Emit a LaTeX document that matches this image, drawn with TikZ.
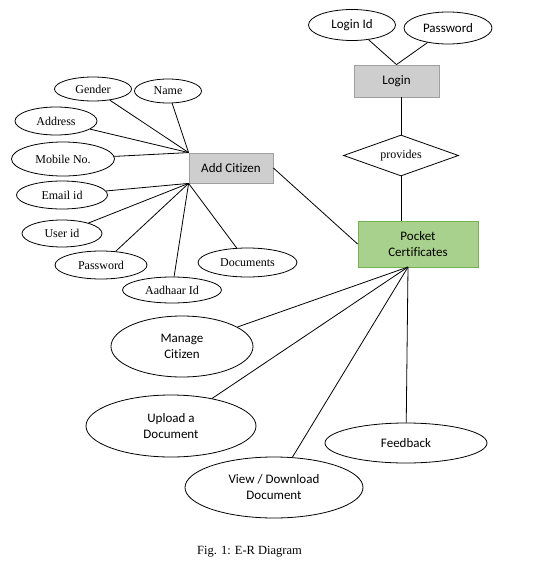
\documentclass[tikz,border=0pt]{standalone}
\usepackage{fontspec}
\setmainfont{Liberation Serif}
\newfontfamily\calib[Ligatures=NoCommon]{Carlito}
\usetikzlibrary{positioning,shapes.geometric}
\definecolor{boxgray}{RGB}{206,206,206}
\definecolor{edgegray}{RGB}{160,160,160}
\definecolor{boxgreen}{RGB}{169,209,142}
\definecolor{edgegreen}{RGB}{120,178,80}
\tikzset{
  attr/.style={draw,ellipse,inner sep=0pt,font=\fontsize{12}{13}\selectfont},
  act/.style={draw,ellipse,inner sep=0pt,align=center,font=\calib\fontsize{13}{16}\selectfont},
  entity/.style={draw=edgegray,fill=boxgray,inner sep=0pt,font=\calib\fontsize{13}{16}\selectfont},
  rel/.style={draw,diamond,inner sep=0pt,aspect=2.8,font=\fontsize{12}{13}\selectfont},
  link/.style={line width=.8pt}
}

\begin{document}
\begin{tikzpicture}[x=1pt,y=-1pt,line width=.8pt]
\useasboundingbox (0,0) rectangle (534,567);
% entities
\node[entity,minimum width=84pt,minimum height=30pt] (addcit) at (231,168) {Add Citizen};
\node[entity,minimum width=85pt,minimum height=32pt] (login) at (396.5,81) {Login};
\node[entity,draw=edgegreen,fill=boxgreen,align=center,minimum width=120pt,minimum height=46pt] (pocket) at (418,244) {Pocket\\Certificates};
\node[rel,minimum width=115pt,minimum height=41pt] (provides) at (401,155.5) {provides};
\coordinate (hub) at (408,267);
% login attributes
\node[attr,font=\calib\fontsize{13}{16}\selectfont,minimum width=87pt,minimum height=31pt] (loginid) at (352,25) {Login Id};
\node[attr,font=\calib\fontsize{13}{16}\selectfont,minimum width=88pt,minimum height=32pt] (loginpw) at (448,28) {Password};
% citizen attributes
\node[attr,minimum width=77pt,minimum height=24pt] (gender) at (93,89) {Gender};
\node[attr,minimum width=67pt,minimum height=24pt] (name) at (168,91) {Name};
\node[attr,minimum width=82pt,minimum height=28pt] (address) at (56,121) {Address};
\node[attr,minimum width=103pt,minimum height=34pt] (mobile) at (63,159) {Mobile No.};
\node[attr,minimum width=91pt,minimum height=28pt] (email) at (62,195) {Email id};
\node[attr,minimum width=80pt,minimum height=27pt] (userid) at (62,233.5) {User id};
\node[attr,minimum width=92pt,minimum height=28pt] (passwd) at (101,265) {Password};
\node[attr,minimum width=99pt,minimum height=26pt] (aadhaar) at (172,290) {Aadhaar Id};
\node[attr,minimum width=99pt,minimum height=29pt] (docs) at (247.5,262.5) {Documents};
% activities
\node[act,minimum width=142pt,minimum height=61pt] (manage) at (182,346.5) {Manage\\Citizen};
\node[act,minimum width=170pt,minimum height=62pt] (upload) at (171,426) {Upload a\\Document};
\node[act,minimum width=178pt,minimum height=61pt] (view) at (274,487.5) {View / Download\\Document};
\node[act,minimum width=162pt,minimum height=40pt] (feedback) at (406,443) {Feedback};
% connectors
\draw[link] (loginid) -- (login.north);
\draw[link] (loginpw) -- (login.north);
\draw[link] (provides.north) -- (provides.north |- login.south);
\draw[link] (provides.south) -- (provides.south |- pocket.north);
\draw[link] (addcit.east) -- (pocket.west);
\foreach \a in {gender,name,address,mobile}
  \draw[link] (\a) -- (addcit.north west);
\foreach \a in {email,userid,passwd,aadhaar,docs}
  \draw[link] (\a) -- (addcit.south west);
\foreach \a in {manage,upload,view,feedback}
  \draw[link] (\a) -- (hub);
\node[font=\fontsize{12.5}{14}\selectfont] (caption) at (249.5,552) {Fig. 1: E-R Diagram};
\end{tikzpicture}
\end{document}
